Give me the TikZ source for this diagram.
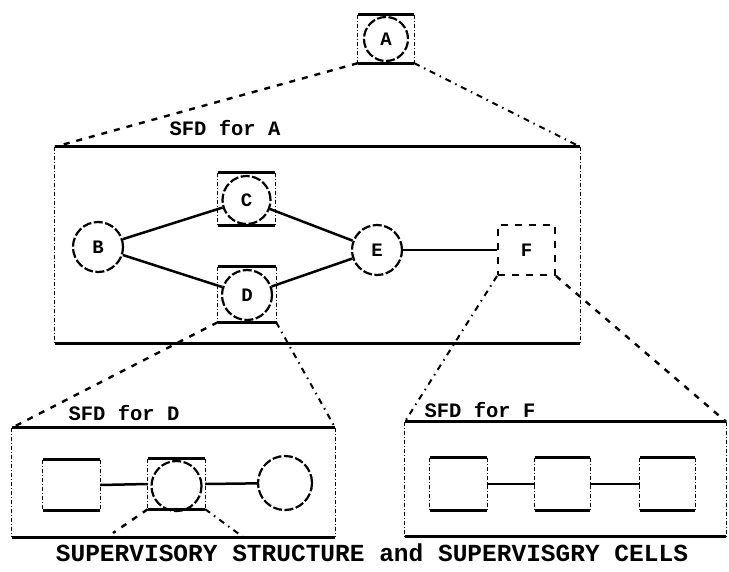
\documentclass[tikz,border=0pt]{standalone}
\usepackage{fontspec}
\setmonofont{Liberation Mono}
\tikzset{
  edge/.style={line width=2.8pt},
  sideline/.style={line width=1.3pt, dash pattern=on 4pt off 2pt on 1pt off 2pt},
  cellbox/.style={rectangle, inner sep=0pt},
  agent/.style={circle, draw, line width=2.2pt, dash pattern=on 9pt off 2.5pt, inner sep=0pt},
  proj/.style={line width=2.4pt, dash pattern=on 6pt off 7pt},
  projdot/.style={line width=2pt, dash pattern=on 6pt off 5pt on 1.5pt off 5pt},
  link/.style={line width=2.5pt},
  lbl/.style={font=\ttfamily\bfseries\fontsize{19}{19}\selectfont},
  title/.style={font=\ttfamily\bfseries\fontsize{20.5}{20.5}\selectfont, inner sep=0pt},
}
% solid top and bottom edges, dashed sides
\newcommand\sfdframe[1]{%
  \draw[edge] (#1.north west) -- (#1.north east);
  \draw[edge] (#1.south west) -- (#1.south east);
  \draw[sideline] (#1.north west) -- (#1.south west);
  \draw[sideline] (#1.north east) -- (#1.south east);
}
\begin{document}
\begin{tikzpicture}[x=1pt,y=-1pt]
\useasboundingbox (0,0) rectangle (729,571);

% top cell A
\node[cellbox, minimum width=56pt, minimum height=48pt] (Abox) at (386,39) {};
\node[agent, minimum size=44pt, lbl] (A) at (386,39) {A};
\sfdframe{Abox}

% SFD for A
\node[cellbox, minimum width=525pt, minimum height=196pt] (SA) at (317.5,245) {};
\sfdframe{SA}
\node[title] (tA) at (225,128) {SFD for A};

\node[agent, minimum size=50pt, lbl] (B) at (98,247) {B};

\node[cellbox, minimum width=57pt, minimum height=52pt] (Cbox) at (246.5,199) {};
\node[agent, minimum size=48pt, lbl] (C) at (246.5,200) {C};
\sfdframe{Cbox}

\node[cellbox, minimum width=58pt, minimum height=55pt] (Dbox) at (247,294.5) {};
\node[agent, minimum size=50pt, lbl] (D) at (247,295) {D};
\sfdframe{Dbox}

\node[agent, minimum size=50pt, lbl] (E) at (377,250) {E};

\node[cellbox, draw, line width=2pt, dash pattern=on 7pt off 7pt, minimum width=57pt, minimum height=50pt, lbl] (F) at (526.5,250) {F};

\draw[link] (B) -- (C);
\draw[link] (B) -- (D);
\draw[link] (C) -- (E);
\draw[link] (D) -- (E);
\draw[link] (E) -- (F.west);

% SFD for D
\node[cellbox, minimum width=323pt, minimum height=109pt] (SD) at (173.5,482.5) {};
\sfdframe{SD}
\node[title] (tD) at (124,413) {SFD for D};

\node[cellbox, minimum width=57pt, minimum height=50pt] (D1) at (71.5,485) {};
\sfdframe{D1}
\node[cellbox, minimum width=57pt, minimum height=50pt] (D2box) at (176.5,484) {};
\node[agent, minimum size=50pt] (D2) at (176.5,486) {};
\sfdframe{D2box}
\node[agent, minimum size=54pt] (D3) at (285,483) {};
\draw[link] (D1.east) -- (D2box.west);
\draw[link] (D2box.east) -- (D3);

% SFD for F
\node[cellbox, minimum width=321pt, minimum height=114pt] (SF) at (565.5,479) {};
\sfdframe{SF}
\node[title] (tF) at (480,410) {SFD for F};

\node[cellbox, minimum width=57pt, minimum height=52pt] (F1) at (458.5,484) {};
\sfdframe{F1}
\node[cellbox, minimum width=55pt, minimum height=52pt] (F2) at (562.5,484) {};
\sfdframe{F2}
\node[cellbox, minimum width=55pt, minimum height=52pt] (F3) at (667.5,484) {};
\sfdframe{F3}
\draw[link] (F1.east) -- (F2.west);
\draw[link] (F2.east) -- (F3.west);

% projections from a cell to its supervisory flow diagram
\draw[proj] (Abox.south west) -- (SA.north west);
\draw[projdot] (Abox.south east) -- (SA.north east);
\draw[proj] (Dbox.south west) -- (SD.north west);
\draw[projdot] (Dbox.south east) -- (SD.north east);
\draw[projdot] (F.south west) -- (SF.north west);
\draw[proj] (F.south east) -- (SF.north east);

\coordinate (d2l) at (113,533);
\coordinate (d2r) at (243,537);
\draw[proj] (D2box.south west) -- (d2l);
\draw[projdot] (D2box.south east) -- (d2r);

\node[title, font=\ttfamily\bfseries\fontsize{24.5}{24.5}\selectfont] (cap) at (372,553) {SUPERVISORY STRUCTURE and SUPERVISGRY CELLS};
\end{tikzpicture}
\end{document}
